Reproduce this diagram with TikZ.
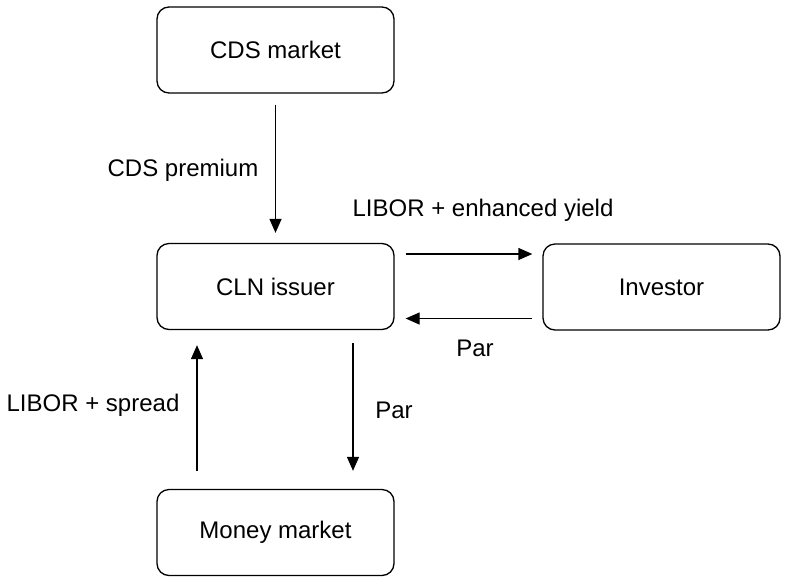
\documentclass[tikz,border=0pt]{standalone}
\usepackage{fontspec}
\setmainfont{Liberation Sans}
\usepackage{tikz}
\usetikzlibrary{shapes,arrows.meta}
\tikzstyle{block} = [rectangle, draw, line width=1.3pt, align=center, rounded corners=12pt, minimum width=237pt, minimum height=86pt, font=\fontsize{24}{28}\selectfont]
\tikzstyle{lbl} = [font=\fontsize{24}{28}\selectfont]
\tikzstyle{line} = [draw, line width=1.3pt, -{Triangle[length=14pt, width=12pt]}]

\begin{document}
\begin{tikzpicture}[x=1pt, y=-1pt]
\useasboundingbox (0, 0) rectangle (789, 579);

% boxes
\node [block] at (275.5, 50) (cds) {CDS market};
\node [block] at (275.5, 286.5) (cln) {CLN issuer};
\node [block] at (661.5, 287) (inv) {Investor};
\node [block] at (275.5, 532.5) (money) {Money market};

% flows
\path [line, shorten <=11pt, shorten >=10pt] (cds.south) to (cln.north);
\node [lbl] at (183, 170) (premium) {CDS premium};

\path [line, shorten <=11pt, shorten >=10pt] ([yshift=32.5pt]cln.east) to ([yshift=32.5pt]cln.east -| inv.west);
\node [lbl] at (483, 210) (yield) {LIBOR + enhanced yield};
\path [line, shorten <=10pt, shorten >=11pt] ([yshift=-31.5pt]inv.west) to ([yshift=-31.5pt]inv.west -| cln.east);
\node [lbl] at (475, 348) (parinv) {Par};

\path [line, shorten <=18pt, shorten >=15pt] ([xshift=-78.5pt]money.north) to ([xshift=-78.5pt]cln.south);
\node [lbl] at (93, 405) (spread) {LIBOR + spread};
\path [line, shorten <=13pt, shorten >=18pt] ([xshift=77.5pt]cln.south) to ([xshift=77.5pt]money.north);
\node [lbl] at (394, 410) (parmoney) {Par};

\end{tikzpicture}
\end{document}
